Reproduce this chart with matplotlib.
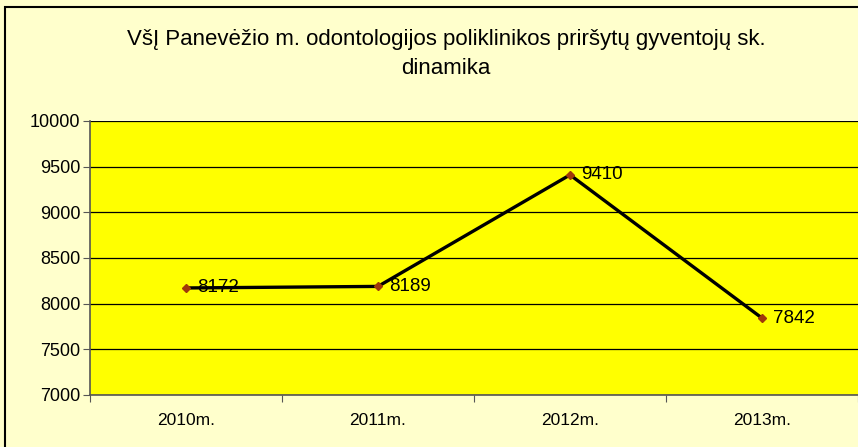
import matplotlib
matplotlib.use('Agg')

from matplotlib import pyplot as plt
from matplotlib.patches import Rectangle

years = ['2010m.', '2011m.', '2012m.', '2013m.']
patients = [8172, 8189, 9410, 7842]
title = 'VšĮ Panevėžio m. odontologijos poliklinikos priršytų gyventojų sk.\ndinamika'

plt.rcParams['font.family'] = ['Liberation Sans', 'DejaVu Sans']

fig = plt.figure(figsize=(8.58, 4.47), dpi=100)
fig.patch.set_facecolor('#FFFFCC')

# outer chart border (cropped on the right and bottom in the reference)
fig.patches.append(Rectangle((5 / 858, -0.1), 1.2, 1 - 7 / 447 + 0.1,
                             transform=fig.transFigure, fill=False,
                             edgecolor='black', linewidth=1.5))

ax = fig.add_axes([90 / 858, 1 - 395 / 447, 1 - 90 / 858, (395 - 121) / 447])
ax.set_facecolor('#FFFF00')

x = list(range(len(years)))
ax.plot(x, patients, color='black', linewidth=2.4, zorder=3)
ax.plot(x, patients, linestyle='none', marker='D', markersize=4,
        color='#A0390A', zorder=4)
for xi, v in zip(x, patients):
    ax.annotate(str(v), (xi, v), xytext=(8, 0), textcoords='offset points',
                ha='left', va='center', fontsize=13.5, zorder=5)

ax.set_xlim(-0.5, 3.5)
ax.set_ylim(7000, 10000)
ax.set_yticks(range(7000, 10001, 500))
ax.yaxis.grid(True, color='black', linewidth=0.9)
ax.set_axisbelow(True)

ax.set_xticks([-0.5, 0.5, 1.5, 2.5, 3.5])
ax.set_xticklabels([])
ax.set_xticks(x, minor=True)
ax.set_xticklabels(years, minor=True)
ax.tick_params(axis='x', which='minor', length=0, pad=13, labelsize=12.5)
ax.tick_params(axis='x', which='major', length=5, color='#555555')
ax.tick_params(axis='y', length=5, color='#555555', labelsize=13, pad=2)

for side in ('top', 'right'):
    ax.spines[side].set_visible(False)
for side in ('left', 'bottom'):
    ax.spines[side].set_color('#555555')
    ax.spines[side].set_linewidth(1.2)

fig.text(446 / 858, 1 - 54 / 447, title, ha='center', va='center',
         fontsize=16, linespacing=1.5)

fig.savefig('out.png', dpi=100, facecolor=fig.get_facecolor())
